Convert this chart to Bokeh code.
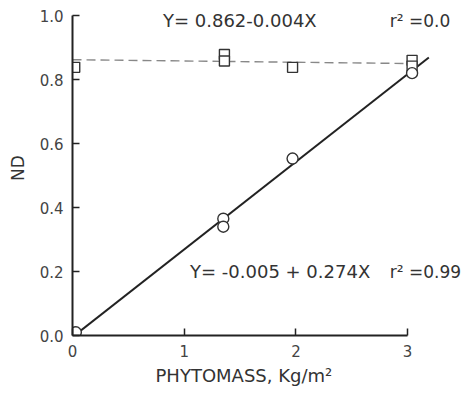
from bokeh.plotting import figure
from bokeh.models import Range1d, FixedTicker, Label, Title
from bokeh.embed import file_html
from bokeh.resources import INLINE

# --- data ---
circle_x = [0.03, 1.35, 1.35, 1.97, 3.04]
circle_y = [0.01, 0.365, 0.34, 0.553, 0.82]

square_x = [0.02, 1.36, 1.36, 1.97, 3.04, 3.04]
square_y = [0.838, 0.878, 0.858, 0.838, 0.86, 0.842]

# regression fits
fit_nd_intercept, fit_nd_slope = -0.005, 0.274   # solid line (circles)
fit_sq_intercept, fit_sq_slope = 0.862, -0.004   # dashed line (squares)
fit_nd_x = [0.02, 3.19]
fit_sq_x = [0.0, 3.04]

x_ticks = [0, 1, 2, 3]
y_ticks = [0.0, 0.2, 0.4, 0.6, 0.8, 1.0]
y_tick_labels = ["0.0", "0.2", "0.4", "0.6", "0.8", "1.0"]

eq1_text = "Y= 0.862-0.004X"
r1_text = "r² =0.0"
eq2_text = "Y= -0.005 + 0.274X"
r2_text = "r² =0.99"
x_label = "PHYTOMASS, Kg/m²"
y_label = "ND"

FONT = "DejaVu Sans"
TXT = "#333333"

p = figure(width=468, height=398, output_backend="svg", toolbar_location=None,
           x_range=Range1d(0, 3.545), y_range=Range1d(0, 1.047),
           min_border_left=72, min_border_right=0, min_border_top=0,
           min_border_bottom=63)
p.outline_line_color = None
p.xgrid.visible = False
p.ygrid.visible = False
p.background_fill_color = "white"

for ax in (p.xaxis[0], p.yaxis[0]):
    ax.axis_line_color = "#222222"
    ax.axis_line_width = 2
    ax.major_tick_line_color = "#222222"
    ax.major_tick_line_width = 1.5
    ax.major_tick_in = 7
    ax.major_tick_out = 0
    ax.minor_tick_line_color = None
    ax.major_label_text_font = FONT
    ax.major_label_text_font_size = "15px"
    ax.major_label_text_color = "#444444"
    ax.axis_label_text_font = FONT
    ax.axis_label_text_font_style = "normal"
    ax.axis_label_text_color = TXT

p.xaxis[0].ticker = FixedTicker(ticks=x_ticks)
p.xaxis[0].bounds = (0, 3)
p.xaxis[0].major_label_standoff = 9

p.yaxis[0].ticker = FixedTicker(ticks=y_ticks)
p.yaxis[0].major_label_overrides = {t: l for t, l in zip(y_ticks, y_tick_labels)}
p.yaxis[0].bounds = (0, 1)
p.yaxis[0].major_label_standoff = 9
p.yaxis[0].axis_label = y_label
p.yaxis[0].axis_label_text_font_size = "17px"
p.yaxis[0].axis_label_standoff = 9

# x-axis title placed as a below-title so it can sit left of frame centre
p.add_layout(Title(text=x_label, align="left", offset=83, standoff=7,
                   text_font=FONT, text_font_size="18px",
                   text_font_style="normal", text_color=TXT), "below")

# fitted lines
p.line(fit_sq_x, [fit_sq_intercept + fit_sq_slope * x for x in fit_sq_x],
       line_color="#888888", line_width=1.4, line_dash="9 5")
p.line(fit_nd_x, [fit_nd_intercept + fit_nd_slope * x for x in fit_nd_x],
       line_color="#222222", line_width=2)

# markers
p.scatter(square_x, square_y, marker="square", size=10, fill_color="white",
          line_color="#333333", line_width=1.4)
p.scatter(circle_x, circle_y, marker="circle", size=11, fill_color="white",
          line_color="#333333", line_width=1.4)

# equation labels
for x, y, t, fs in [(0.81, 0.984, eq1_text, "18px"), (2.84, 0.984, r1_text, "17px"),
                    (1.052, 0.2, eq2_text, "18px"), (2.84, 0.2, r2_text, "17px")]:
    p.add_layout(Label(x=x, y=y, text=t, text_align="left",
                       text_baseline="middle", text_font=FONT,
                       text_font_size=fs, text_color=TXT))

open("out.html", "w").write(file_html(p, INLINE))
